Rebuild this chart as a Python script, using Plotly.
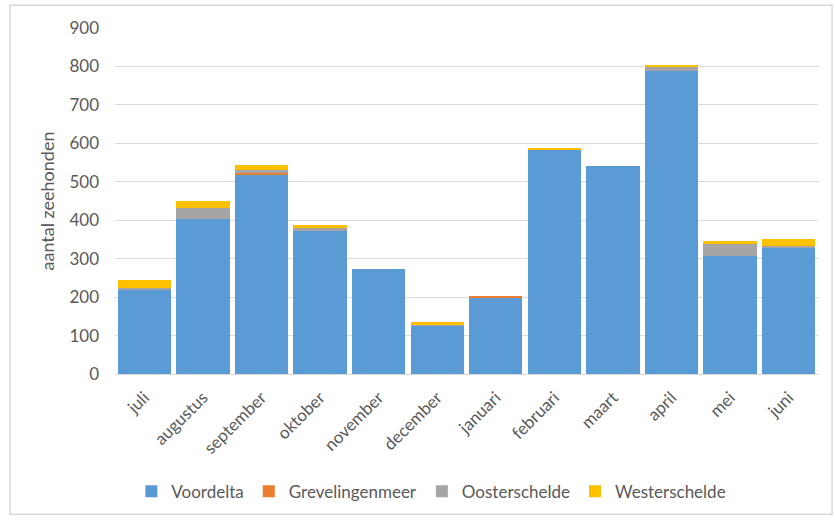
import plotly.graph_objects as go

months = ["juli", "augustus", "september", "oktober", "november", "december",
          "januari", "februari", "maart", "april", "mei", "juni"]
voordelta = [218, 403, 519, 373, 274, 127, 198, 583, 542, 788, 308, 330]
grevelingenmeer = [0, 0, 3, 0, 0, 0, 3, 0, 0, 0, 0, 0]
oosterschelde = [7, 28, 9, 6, 0, 1, 0, 2, 0, 12, 29, 2]
westerschelde = [19, 20, 12, 9, 0, 6, 0, 2, 0, 3, 10, 19]

series = [
    ("Voordelta", voordelta, "#5B9BD5"),
    ("Grevelingenmeer", grevelingenmeer, "#ED7D31"),
    ("Oosterschelde", oosterschelde, "#A5A5A5"),
    ("Westerschelde", westerschelde, "#FFC000"),
]

font_family = "Lato, 'Open Sans', sans-serif"
fig = go.Figure()
for name, vals, col in series:
    fig.add_trace(go.Bar(x=months, y=vals, name=name, marker=dict(color=col, line=dict(width=0))))

fig.update_layout(
    barmode="stack",
    bargap=0.09,
    width=835, height=521,
    margin=dict(l=115, r=17, t=28, b=145),
    paper_bgcolor="white", plot_bgcolor="white",
    font=dict(family=font_family, color="#595959", size=17),
    xaxis=dict(tickangle=-45, tickfont=dict(size=17, color="#595959"), showgrid=False,
               showline=True, linecolor="#D9D9D9", ticks="", ticklabelstandoff=6),
    yaxis=dict(range=[0, 900], dtick=100, showgrid=True, gridcolor="#D9D9D9", gridwidth=1,
               zeroline=False, tickfont=dict(size=17, color="#595959"), ticks="",
               ticklabelstandoff=15,
               title=dict(text="aantal zeehonden", font=dict(size=18, color="#595959"), standoff=10)),
    legend=dict(orientation="h", x=0.45, xanchor="center", y=-0.34, yanchor="middle",
                font=dict(size=17, color="#595959"), traceorder="normal",
                itemwidth=30),
    shapes=[dict(type="rect", xref="paper", yref="paper", x0=-0.1494, x1=1.02,
                 y0=-0.405, y1=1.066, line=dict(color="#D9D9D9", width=1.5), layer="below")],
)

fig.write_html("out.html")
